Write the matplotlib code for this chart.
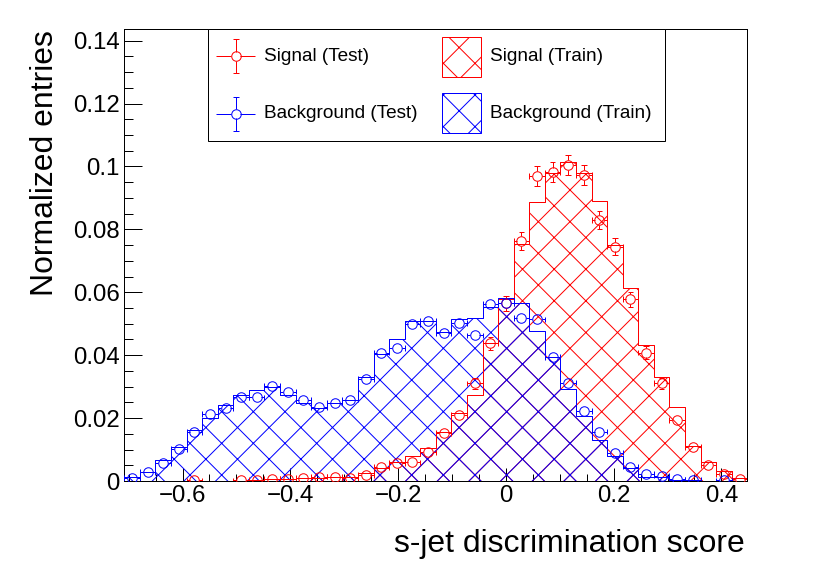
import numpy as np
import matplotlib
matplotlib.use('Agg')
import matplotlib.pyplot as plt
from matplotlib.patches import Rectangle
from matplotlib.collections import LineCollection
from matplotlib.ticker import FixedLocator, FixedFormatter, MultipleLocator

# ---------------- data ----------------
x_min, x_max, n_bins = -0.708, 0.448, 40

sig_train = [0, 0, 0, 0, 0, 0, 0, 0, 0.0003, 0.0005,
             0.0006, 0.0008, 0.0010, 0.0012, 0.0014, 0.0026, 0.0040, 0.0061, 0.0080, 0.0105,
             0.0157, 0.0215, 0.0273, 0.0438, 0.0580, 0.0755, 0.0888, 0.0978, 0.1015, 0.0978,
             0.0891, 0.0750, 0.0614, 0.0432, 0.0332, 0.0234, 0.0111, 0.0061, 0.0032, 0.0010]

bkg_train = [0.0012, 0.0030, 0.0067, 0.0107, 0.0162, 0.0199, 0.0242, 0.0273, 0.0289, 0.0300,
             0.0273, 0.0249, 0.0231, 0.0247, 0.0257, 0.0331, 0.0404, 0.0450, 0.0510, 0.0510,
             0.0475, 0.0514, 0.0517, 0.0552, 0.0581, 0.0567, 0.0478, 0.0395, 0.0291, 0.0207,
             0.0130, 0.0079, 0.0040, 0.0014, 0.0014, 0.0004, 0.0003, 0.0001, 0.0001, 0.0]

nan = float('nan')
sig_test = [nan, nan, nan, nan, 0.0002, nan, nan, 0.0002, 0.0003, 0.0007,
            0.0007, 0.0010, 0.0014, 0.0014, 0.0010, 0.0019, 0.0045, 0.0058, 0.0059, 0.0091,
            0.0152, 0.0210, 0.0310, 0.0438, 0.0565, 0.0763, 0.0970, 0.0981, 0.1004, 0.0973,
            0.0830, 0.0745, 0.0578, 0.0408, 0.0311, 0.0194, 0.0109, 0.0051, 0.0022, 0.0007]
sig_test_err = [0, 0, 0, 0, 0.0001, 0, 0, 0.0001, 0.0002, 0.0003,
                0.0003, 0.0003, 0.0004, 0.0004, 0.0003, 0.0004, 0.0007, 0.0008, 0.0008, 0.0010,
                0.0012, 0.0015, 0.0018, 0.0021, 0.0024, 0.0028, 0.0031, 0.0032, 0.0032, 0.0031,
                0.0029, 0.0028, 0.0024, 0.0020, 0.0018, 0.0014, 0.0011, 0.0007, 0.0005, 0.0003]

bkg_test = [0.0009, 0.0028, 0.0056, 0.0102, 0.0155, 0.0213, 0.0233, 0.0266, 0.0266, 0.0303,
            0.0284, 0.0257, 0.0236, 0.0249, 0.0259, 0.0324, 0.0408, 0.0422, 0.0499, 0.0509,
            0.0469, 0.0503, 0.0463, 0.0563, 0.0565, 0.0519, 0.0514, 0.0395, 0.0313, 0.0222,
            0.0157, 0.0090, 0.0046, 0.0022, 0.0017, 0.0005, 0.0003, nan, 0.0002, nan]
bkg_test_err = [0.0002, 0.0003, 0.0005, 0.0006, 0.0008, 0.0009, 0.0009, 0.0010, 0.0010, 0.0010,
                0.0010, 0.0010, 0.0009, 0.0010, 0.0010, 0.0011, 0.0012, 0.0012, 0.0013, 0.0014,
                0.0013, 0.0013, 0.0013, 0.0014, 0.0014, 0.0014, 0.0014, 0.0012, 0.0011, 0.0009,
                0.0008, 0.0006, 0.0004, 0.0003, 0.0003, 0.0001, 0.0001, 0, 0.0001, 0]

x_ticks = [-0.6, -0.4, -0.2, 0.0, 0.2, 0.4]
x_tick_labels = ['\u22120.6', '\u22120.4', '\u22120.2', '0', '0.2', '0.4']
y_ticks = [0, 0.02, 0.04, 0.06, 0.08, 0.10, 0.12, 0.14]
y_tick_labels = ['0', '0.02', '0.04', '0.06', '0.08', '0.1', '0.12', '0.14']
y_max = 0.1437

x_title = 's-jet discrimination score'
y_title = 'Normalized entries'
legend_labels = ['Signal (Test)', 'Signal (Train)', 'Background (Test)', 'Background (Train)']

# ---------------- style ----------------
DPI = 190
W, H = 830, 567
PX = 72.0 / DPI          # points per pixel
RED = '#ff0000'
BLUE = '#0000ff'
LW = 1.0 * PX
HATCH = 'xx'

plt.rcParams['font.family'] = ['Liberation Sans', 'DejaVu Sans']
plt.rcParams['hatch.linewidth'] = LW
plt.rcParams['axes.unicode_minus'] = True

fig = plt.figure(figsize=(W / DPI, H / DPI), dpi=DPI, facecolor='white')

L, R, T, B = 124.3, 747.3, 29.0, 481.0
ax = fig.add_axes([L / W, 1 - B / H, (R - L) / W, (B - T) / H])
ax.set_xlim(x_min, x_max)
ax.set_ylim(0, y_max)

edges = np.linspace(x_min, x_max, n_bins + 1)
centers = 0.5 * (edges[:-1] + edges[1:])
bw = edges[1] - edges[0]


def step_xy(vals):
    xs = np.concatenate([[edges[0]], np.repeat(edges, 2)[1:-1], [edges[-1]]])
    ys = np.concatenate([[0.0], np.repeat(np.asarray(vals, float), 2), [0.0]])
    return xs, ys


# training histograms (hatched)
for vals, col in [(sig_train, RED), (bkg_train, BLUE)]:
    ax.stairs(vals, edges, baseline=0, fill=True, facecolor='none',
              edgecolor=col, linewidth=0, hatch=HATCH, zorder=2, antialiased=False)
    sxs, sys_ = step_xy(vals)
    ax.plot(sxs, sys_, color=col, linewidth=LW, zorder=3)

# test points with ROOT-like E1 error bars
sx = (x_max - x_min) / (R - L)
sy = y_max / (B - T)
r_px = 4.75
cap_px = 2.8


def draw_test(vals, errs, col):
    segs = []
    xs, ys = [], []
    rx, ry = r_px * sx, r_px * sy
    for xc, v, e in zip(centers, vals, errs):
        if np.isnan(v):
            continue
        xs.append(xc)
        ys.append(v)
        segs.append([(xc - bw / 2, v), (xc - rx, v)])
        segs.append([(xc + rx, v), (xc + bw / 2, v)])
        segs.append([(xc - bw / 2, v - cap_px * sy), (xc - bw / 2, v + cap_px * sy)])
        segs.append([(xc + bw / 2, v - cap_px * sy), (xc + bw / 2, v + cap_px * sy)])
        if e > ry:
            segs.append([(xc, v + ry), (xc, v + e)])
            segs.append([(xc, v - ry), (xc, v - e)])
            segs.append([(xc - cap_px * sx, v + e), (xc + cap_px * sx, v + e)])
            segs.append([(xc - cap_px * sx, v - e), (xc + cap_px * sx, v - e)])
    ax.add_collection(LineCollection(segs, colors=col, linewidths=LW, zorder=4))
    ax.plot(xs, ys, ls='none', marker='o', ms=2 * r_px * PX, mfc='none',
            mec=col, mew=LW, zorder=5)


draw_test(sig_test, sig_test_err, RED)
draw_test(bkg_test, bkg_test_err, BLUE)

# axes styling
for s in ax.spines.values():
    s.set_linewidth(LW)
ax.xaxis.set_major_locator(FixedLocator(x_ticks))
ax.xaxis.set_major_formatter(FixedFormatter(x_tick_labels))
ax.xaxis.set_minor_locator(MultipleLocator(0.05))
ax.yaxis.set_major_locator(FixedLocator(y_ticks))
ax.yaxis.set_major_formatter(FixedFormatter(y_tick_labels))
ax.yaxis.set_minor_locator(MultipleLocator(0.005))
ax.tick_params(axis='both', which='both', direction='in', top=False, right=False,
               width=LW, colors='black')
ax.tick_params(axis='x', which='major', length=13 * PX, pad=1.7, labelsize=9.1)
ax.tick_params(axis='x', which='minor', length=6.8 * PX)
ax.tick_params(axis='y', which='major', length=18 * PX, pad=1.8, labelsize=9.1)
ax.tick_params(axis='y', which='minor', length=9 * PX)

fig.text(745 / W, 1 - 552 / H, x_title, ha='right', va='baseline', fontsize=12.1)
fig.text(53.5 / W, 1 - 30 / H, y_title, rotation=90, rotation_mode='anchor',
         ha='right', va='baseline', fontsize=12.1)

# ---------------- legend (pixel overlay) ----------------
ov = fig.add_axes([0, 0, 1, 1], zorder=10)
ov.set_xlim(0, W)
ov.set_ylim(H, 0)
ov.axis('off')
ov.patch.set_visible(False)

ov.add_patch(Rectangle((207.8, 29.0), 664.5 - 207.8, 141.0 - 29.0, facecolor='white',
                       edgecolor='black', linewidth=LW))


def legend_point(cx, cy, col):
    r = r_px
    segs = [[(216, cy), (cx - r, cy)], [(cx + r, cy), (255, cy)],
            [(cx, cy - 17), (cx, cy - r)], [(cx, cy + r), (cx, cy + 17)],
            [(cx - 3, cy - 17), (cx + 3, cy - 17)], [(cx - 3, cy + 17), (cx + 3, cy + 17)]]
    ov.add_collection(LineCollection(segs, colors=col, linewidths=LW))
    ov.plot([cx], [cy], ls='none', marker='o', ms=2 * r * PX, mfc='none', mec=col, mew=LW)


legend_point(235.6, 56.3, RED)
legend_point(235.6, 113.7, BLUE)
ov.add_patch(Rectangle((441.5, 36.7), 39.5, 40.0, facecolor='none', edgecolor=RED,
                       linewidth=LW, hatch=HATCH))
ov.add_patch(Rectangle((441.5, 93.3), 39.5, 40.0, facecolor='none', edgecolor=BLUE,
                       linewidth=LW, hatch=HATCH))
fs_leg = 7.2
ov.text(264, 56.3, legend_labels[0], ha='left', va='center', fontsize=fs_leg)
ov.text(490, 56.3, legend_labels[1], ha='left', va='center', fontsize=fs_leg)
ov.text(264, 113.7, legend_labels[2], ha='left', va='center', fontsize=fs_leg)
ov.text(490, 113.7, legend_labels[3], ha='left', va='center', fontsize=fs_leg)

fig.savefig('out.png', dpi=DPI, facecolor='white')
